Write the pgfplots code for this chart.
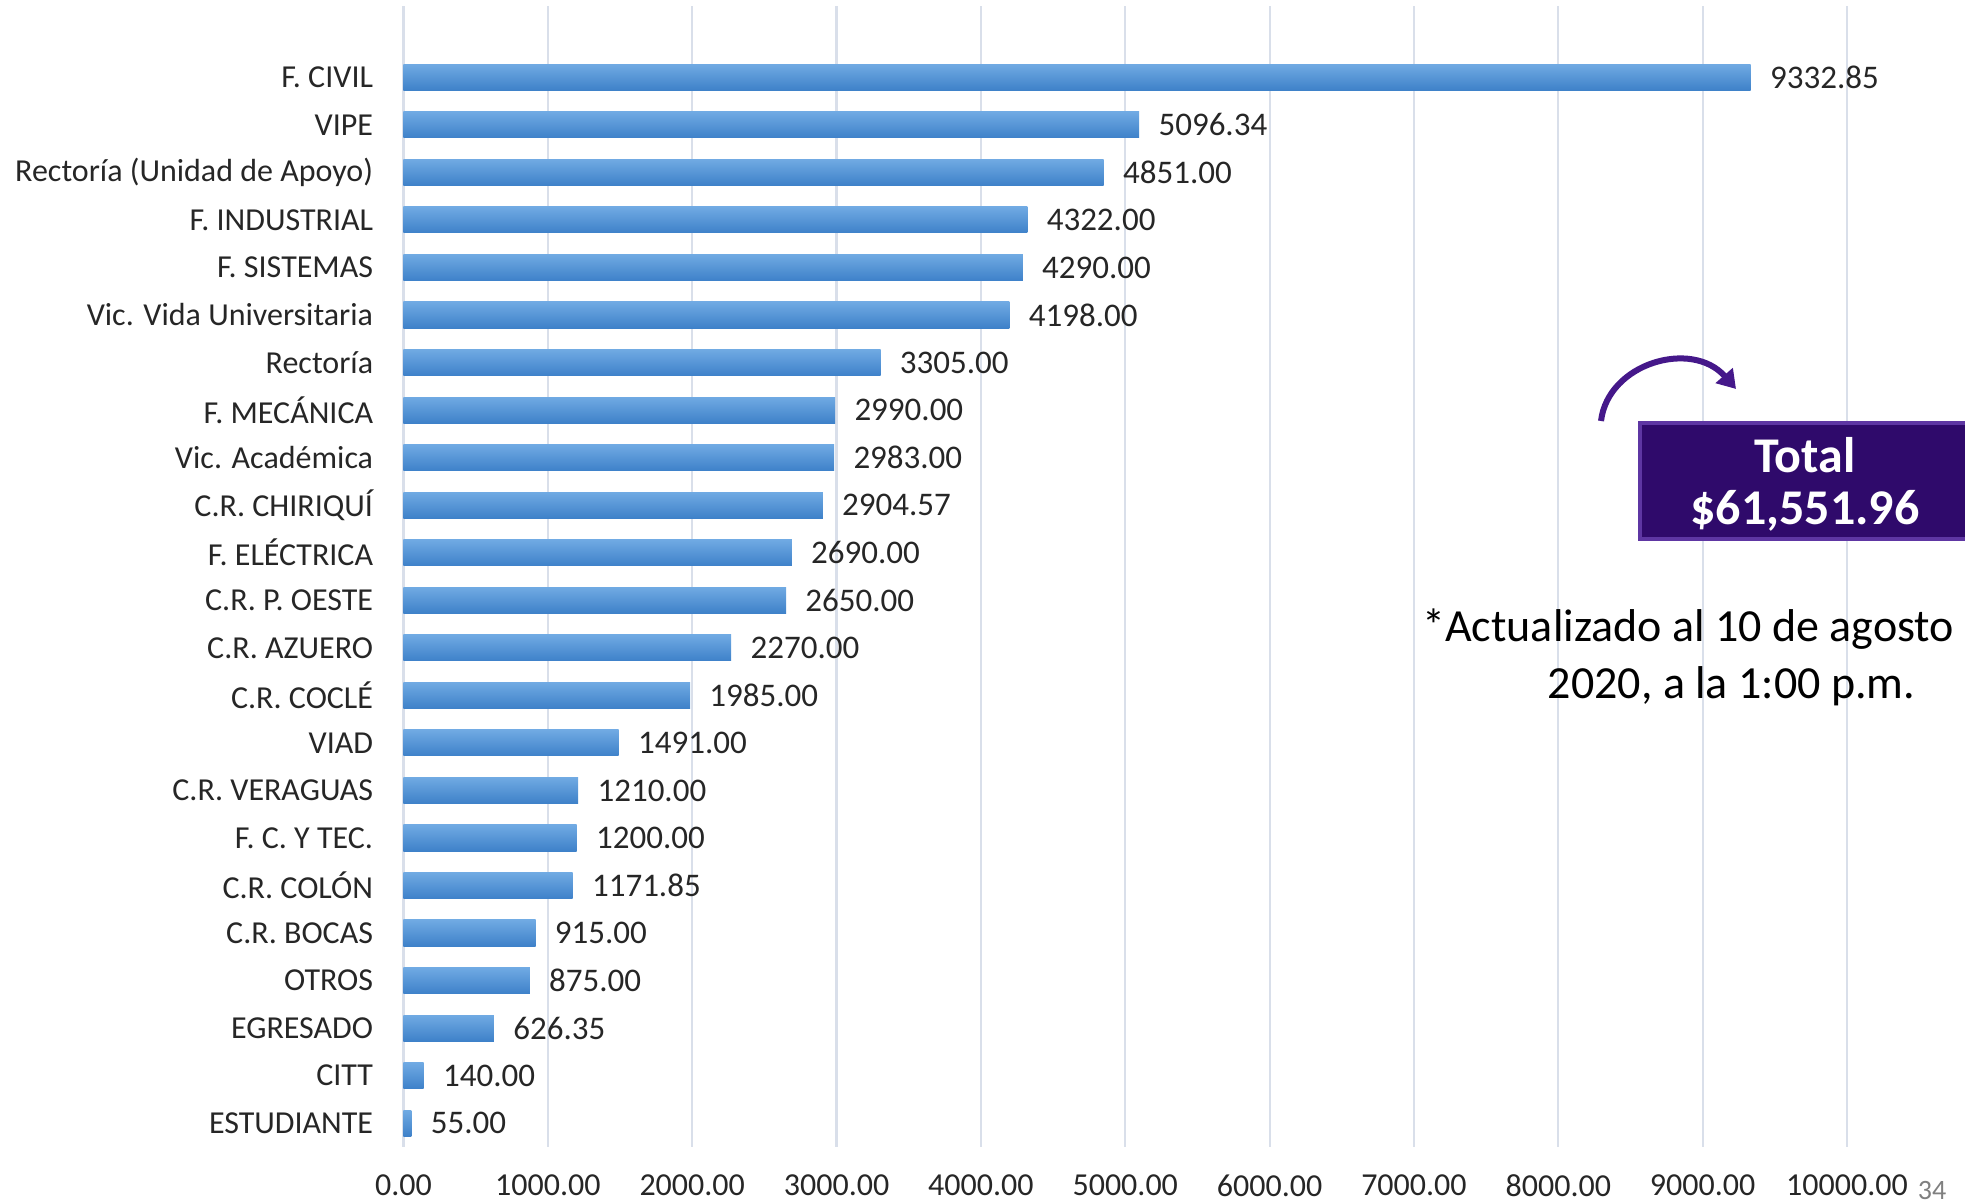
\documentclass[border=0pt]{standalone}
\usepackage{fontspec}
\setmainfont{Carlito}
\usepackage{pgfplots}
\pgfplotsset{compat=1.18}
\usetikzlibrary{arrows.meta}
\definecolor{gridc}{HTML}{D9DFEA}
\definecolor{barTop}{HTML}{70AAE3}
\definecolor{barBot}{HTML}{3E81C9}
\definecolor{boxIn}{HTML}{2F0A6B}
\definecolor{boxEdge}{HTML}{5E36A3}
\definecolor{arrowc}{HTML}{45188A}
\definecolor{txt}{HTML}{262626}
\begin{document}
\begin{tikzpicture}
\useasboundingbox (0,0) rectangle (982.5pt,601.5pt);
\begin{axis}[
  at={(201.75pt,28pt)}, anchor=south west,
  scale only axis, width=721.75pt, height=570.5pt,
  xbar, bar width=0.55,
  mybar/.style={draw=none, top color=barTop, bottom color=barBot, bar shift=0pt},
  xmin=0, xmax=10000, ymin=-0.5, ymax=23.5,
  xtick={0,1000,...,10000},
  ytick={0,...,22},
  yticklabels={ESTUDIANTE,CITT,EGRESADO,OTROS,C.R. BOCAS,C.R. COLÓN,F. C. Y TEC.,C.R. VERAGUAS,VIAD,C.R. COCLÉ,C.R. AZUERO,C.R. P. OESTE,F. ELÉCTRICA,C.R. CHIRIQUÍ,Vic. Académica,F. MECÁNICA,Rectoría,Vic. Vida Universitaria,F. SISTEMAS,F. INDUSTRIAL,Rectoría (Unidad de Apoyo),VIPE,F. CIVIL},
  axis line style={draw=none},
  major tick length=0pt,
  tick style={draw=none},
  xmajorgrids,
  major grid style={gridc, line width=1.1pt},
  /pgf/number format/fixed,
  /pgf/number format/fixed zerofill,
  /pgf/number format/precision=2,
  /pgf/number format/1000 sep={},
  /pgf/number format/assume math mode=true,
  scaled x ticks=false,
  xticklabel style={inner sep=0pt, anchor=north, yshift=-13.5pt, font=\fontsize{16}{19}\selectfont, text=txt},
  yticklabel style={inner sep=0pt, anchor=east, xshift=-15pt, font=\fontsize{16}{19}\selectfont, text=txt},
  nodes near coords,
  every node near coord/.append style={anchor=west, inner sep=0pt, xshift=9.5pt, font=\fontsize{16.5}{19}\selectfont, text=txt},
]
\addplot[mybar] coordinates {(55,0)};
\addplot[mybar] coordinates {(140,1)};
\addplot[mybar] coordinates {(626.35,2)};
\addplot[mybar] coordinates {(875,3)};
\addplot[mybar] coordinates {(915,4)};
\addplot[mybar] coordinates {(1171.85,5)};
\addplot[mybar] coordinates {(1200,6)};
\addplot[mybar] coordinates {(1210,7)};
\addplot[mybar] coordinates {(1491,8)};
\addplot[mybar] coordinates {(1985,9)};
\addplot[mybar] coordinates {(2270,10)};
\addplot[mybar] coordinates {(2650,11)};
\addplot[mybar] coordinates {(2690,12)};
\addplot[mybar] coordinates {(2904.57,13)};
\addplot[mybar] coordinates {(2983,14)};
\addplot[mybar] coordinates {(2990,15)};
\addplot[mybar] coordinates {(3305,16)};
\addplot[mybar] coordinates {(4198,17)};
\addplot[mybar] coordinates {(4290,18)};
\addplot[mybar] coordinates {(4322,19)};
\addplot[mybar] coordinates {(4851,20)};
\addplot[mybar] coordinates {(5096.34,21)};
\addplot[mybar] coordinates {(9332.85,22)};
\end{axis}
% arrow
\draw[arrowc, line width=3pt, -{Triangle[length=9pt,width=11pt]}] (800.5pt,391pt) .. controls (804pt,420pt) and (846pt,432pt) .. (868pt,407pt);
% total box
\fill[boxEdge] (819pt,331pt) rectangle (990pt,391pt);
\fill[boxIn] (821pt,333pt) rectangle (990pt,389pt);
\node[text=white, font=\fontsize{25}{30}\selectfont\bfseries, anchor=center] at (902.5pt,374pt) {Total};
\node[text=white, font=\fontsize{25}{30}\selectfont\bfseries, anchor=center] at (902.5pt,346pt) {\$61,551.96};
% note
\node[text=black, font=\fontsize{23}{27}\selectfont, anchor=base west, inner sep=0pt] at (711pt,280.5pt) {*Actualizado al 10 de agosto};
\node[text=black, font=\fontsize{23}{27}\selectfont, anchor=base, inner sep=0pt] at (865.75pt,252pt) {2020, a la 1:00 p.m.};
% slide number
\node[text=gray, font=\fontsize{14}{17}\selectfont, anchor=base, inner sep=0pt] at (966pt,1.5pt) {34};
\end{tikzpicture}
\end{document}
